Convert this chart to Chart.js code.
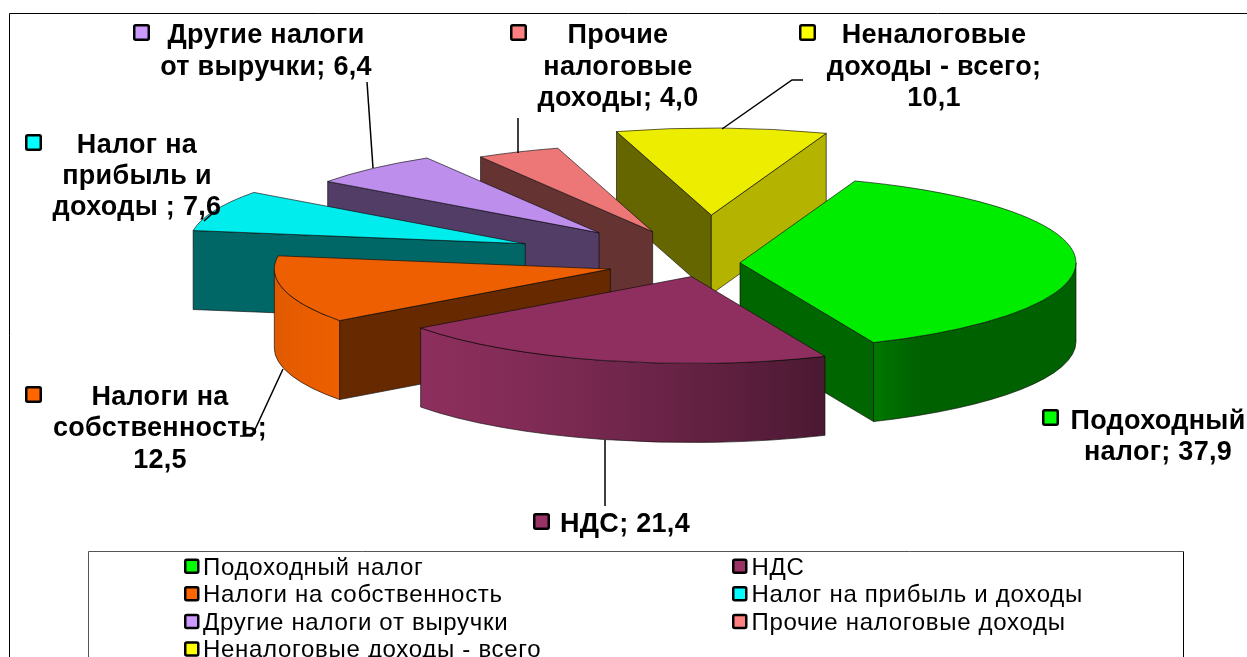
<!DOCTYPE html>
<html><head><meta charset="utf-8">
<style>html,body{margin:0;padding:0;background:#fff;overflow:hidden}canvas{display:block}</style>
<script src="https://cdn.jsdelivr.net/npm/chart.js@4"></script>
</head><body><div style="width:1247px;height:657px"><canvas id="c" width="1247" height="657"></canvas></div>
<script>
const categories = ["Подоходный налог","НДС","Налоги на собственность","Налог на прибыль и доходы","Другие налоги от выручки","Прочие налоговые доходы","Неналоговые доходы - всего"];
const values = [37.9,21.4,12.5,7.6,6.4,4.0,10.1];
const baseColors = ["#00FF00","#993366","#FF6600","#00FFFF","#CC99FF","#FF8080","#FFFF00"];
const explode = [34.5,54,98,195,158,132,185];

const RATIO = 0.259, DEPTH = 79, RADIUS = 336;
const FONT = '"Liberation Sans", Arial, sans-serif';
// label layout: text lines, centre x, baselines, marker left/top
const labelLayout = [
  {lines:["Подоходный","налог; 37,9"],cx:1158,ys:[429,460],mx:1042,my:409},
  {lines:["НДС; 21,4"],cx:625,ys:[532],mx:533,my:513},
  {lines:["Налоги на","собственность;","12,5"],cx:160,ys:[405,436,468],mx:25,my:386},
  {lines:["Налог на","прибыль и","доходы ; 7,6"],cx:137,ys:[153,184,215],mx:25,my:134},
  {lines:["Другие налоги","от выручки; 6,4"],cx:266,ys:[43,75],mx:133,my:24},
  {lines:["Прочие","налоговые","доходы; 4,0"],cx:618,ys:[43,75,106],mx:510,my:24},
  {lines:["Неналоговые","доходы - всего;","10,1"],cx:934,ys:[43,75,106],mx:799,my:24}
];
const leaders = [
  [[605,440],[605,506]],
  [[240,436],[252,436],[283,369]],
  [[204,221],[214,212]],
  [[367,82],[373,168]],
  [[518,118],[518,153]],
  [[722,129],[792,80],[803,80]]
];
const legendOrder = [0,1,2,3,4,5,6];

function shade(hex,f){
  const n=parseInt(hex.slice(1),16);
  return `rgb(${Math.round((n>>16&255)*f)},${Math.round((n>>8&255)*f)},${Math.round((n&255)*f)})`;
}
// brightness of the curved outer wall, by canvas angle
function wallShade(a){
  const d=a*180/Math.PI;
  const pts=[[0,.38],[58,.38],[64,.44],[68,.5],[100,.73],[120,.85],[144,.93],[180,.87]];
  for(let i=1;i<pts.length;i++){
    if(d<=pts[i][0]){const t=(d-pts[i-1][0])/(pts[i][0]-pts[i-1][0]);return pts[i-1][1]+t*(pts[i][1]-pts[i-1][1]);}
  }
  return .87;
}
const EDGE='rgba(10,10,10,.8)';
function drawFace(ctx,pts,fill){
  ctx.beginPath();pts.forEach((p,i)=>i?ctx.lineTo(p[0],p[1]):ctx.moveTo(p[0],p[1]));ctx.closePath();
  ctx.fillStyle=fill;ctx.fill();ctx.lineWidth=.8;ctx.strokeStyle=EDGE;ctx.stroke();
}
const pie3d={
  id:'pie3d',
  beforeDraw(chart){
    const ctx=chart.ctx;
    ctx.save();ctx.fillStyle='#fff';ctx.fillRect(0,0,1247,657);
    ctx.strokeStyle='#000';ctx.lineWidth=1;
    ctx.beginPath();ctx.moveTo(9.5,657);ctx.lineTo(9.5,13.5);ctx.lineTo(1247,13.5);ctx.stroke();
    ctx.restore();
  },
  beforeDatasetsDraw(chart){
    const ctx=chart.ctx, arcs=chart.getDatasetMeta(0).data;
    const items=arcs.map((arc,i)=>{
      const mid=(arc.startAngle+arc.endAngle)/2;
      return {arc,i,mid,ax:arc.x+explode[i]*Math.cos(mid),ay:arc.y+RATIO*explode[i]*Math.sin(mid)};
    }).sort((p,q)=>p.ay-q.ay);
    for(const it of items){
      const {arc,i,mid,ax,ay}=it, R=arc.outerRadius, s=arc.startAngle, e=arc.endAngle, col=baseColors[i];
      const pt=(a)=>[ax+R*Math.cos(a),ay+RATIO*R*Math.sin(a)];
      ctx.save();
      // cut faces
      const ps=pt(s), pe=pt(e);
      if(Math.cos(s)<0){
        const nx=Math.sin(s);
        drawFace(ctx,[[ax,ay],ps,[ps[0],ps[1]+DEPTH],[ax,ay+DEPTH]],shade(col,nx>.7?.7:.4));
      }
      if(Math.cos(e)>0){
        const nx=-Math.sin(e);
        drawFace(ctx,[[ax,ay],pe,[pe[0],pe[1]+DEPTH],[ax,ay+DEPTH]],shade(col,nx>.7?.7:.4));
      }
      // outer wall
      const a1=Math.max(s,0), a2=Math.min(e,Math.PI);
      if(a2>a1){
        const x1=ax+R*Math.cos(a1), x2=ax+R*Math.cos(a2);
        const g=ctx.createLinearGradient(x1,0,x2,0);
        for(let k=0;k<=16;k++){
          const t=k/16, cx=Math.cos(a1)+(Math.cos(a2)-Math.cos(a1))*t;
          g.addColorStop(t,shade(col,wallShade(Math.acos(cx))));
        }
        ctx.beginPath();
        ctx.ellipse(ax,ay,R,R*RATIO,0,a1,a2,false);
        ctx.ellipse(ax,ay+DEPTH,R,R*RATIO,0,a2,a1,true);
        ctx.closePath();
        ctx.fillStyle=g;ctx.fill();ctx.lineWidth=.8;ctx.strokeStyle=EDGE;ctx.stroke();
      }
      ctx.restore();
      // top face: the library's own arc element, squashed into perspective
      ctx.save();
      ctx.translate(ax,ay);ctx.scale(1,RATIO);ctx.translate(-arc.x,-arc.y);
      arc.draw(ctx);
      ctx.restore();
      ctx.save();
      ctx.beginPath();ctx.moveTo(ax,ay);ctx.ellipse(ax,ay,R,R*RATIO,0,s,e,false);ctx.closePath();
      ctx.lineWidth=.8;ctx.strokeStyle=EDGE;ctx.stroke();
      ctx.restore();
    }
    return false;
  },
  afterDraw(chart){
    const ctx=chart.ctx;
    ctx.save();
    const marker=(x,y,s,c,lw)=>{
      ctx.beginPath();ctx.roundRect(x+lw/2,y+lw/2,s-lw,s-lw,1.5);
      ctx.fillStyle=c;ctx.fill();ctx.lineWidth=lw;ctx.strokeStyle='#000';ctx.stroke();
    };
    // leader lines
    ctx.strokeStyle='#000';ctx.lineWidth=1.5;
    leaders.forEach(l=>{ctx.beginPath();l.forEach((p,i)=>i?ctx.lineTo(p[0],p[1]):ctx.moveTo(p[0],p[1]));ctx.stroke();});
    // data labels
    ctx.textBaseline='alphabetic';
    labelLayout.forEach((l,i)=>{
      ctx.font='bold 27px '+FONT;ctx.letterSpacing='0.3px';ctx.textAlign='center';ctx.fillStyle='#000';
      l.lines.forEach((t,k)=>ctx.fillText(t,l.cx,l.ys[k]));
      marker(l.mx,l.my,17,baseColors[i],2.5);
    });
    // legend box
    ctx.fillStyle='#fff';ctx.fillRect(88,551,1096,106);
    ctx.lineWidth=1;ctx.strokeStyle='#000';
    ctx.beginPath();ctx.moveTo(1183.5,551.5);ctx.lineTo(1183.5,657);ctx.stroke();
    ctx.beginPath();ctx.moveTo(88.5,657);ctx.lineTo(88.5,551.5);ctx.lineTo(1183.5,551.5);ctx.strokeStyle='#555';ctx.stroke();
    ctx.font='24px '+FONT;ctx.letterSpacing='0.7px';ctx.textAlign='left';
    legendOrder.forEach((idx,k)=>{
      const col=k%2, row=Math.floor(k/2);
      const mx=col?732:184, y=566+row*27.6;
      marker(mx,y-7.5,15.5,baseColors[idx],2.5);
      ctx.fillStyle='#000';
      ctx.fillText(categories[idx],col?751.5:203,y+8.5);
    });
    ctx.restore();
  }
};
Chart.register(pie3d);
new Chart(document.getElementById('c'),{
  type:'pie',
  data:{labels:categories,datasets:[{data:values,backgroundColor:baseColors.map(c=>shade(c,.93)),borderWidth:0,offset:0}]},
  options:{
    responsive:false,animation:false,events:[],
    rotation:20,radius:RADIUS,
    layout:{padding:{left:164,bottom:131}},
    plugins:{legend:{display:false},tooltip:{enabled:false}}
  }
});
</script></body></html>
